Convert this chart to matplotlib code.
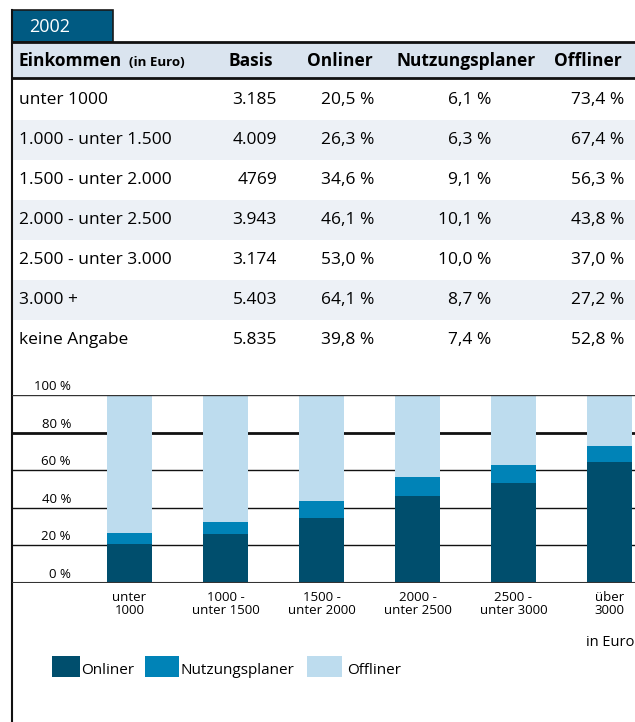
import matplotlib
matplotlib.use('Agg')
import matplotlib.pyplot as plt
from matplotlib.patches import Rectangle
import numpy as np

plt.rcParams['font.family'] = ['Open Sans', 'DejaVu Sans']

# ── data ──
year = '2002'
columns = ['Basis', 'Onliner', 'Nutzungsplaner', 'Offliner']
row_labels = ['unter 1000', '1.000 - unter 1.500', '1.500 - unter 2.000',
              '2.000 - unter 2.500', '2.500 - unter 3.000', '3.000 +', 'keine Angabe']
basis = ['3.185', '4.009', '4769', '3.943', '3.174', '5.403', '5.835']
onliner = [20.5, 26.3, 34.6, 46.1, 53.0, 64.1, 39.8]
nutzungsplaner = [6.1, 6.3, 9.1, 10.1, 10.0, 8.7, 7.4]
offliner = [73.4, 67.4, 56.3, 43.8, 37.0, 27.2, 52.8]

bar_labels = ['unter\n1000', '1000 -\nunter 1500', '1500 -\nunter 2000',
              '2000 -\nunter 2500', '2500 -\nunter 3000', 'über\n3000']
y_ticks = [0, 20, 40, 60, 80, 100]

c_tab = '#005a82'
c_head = '#dae4ef'
c_alt = '#edf1f6'
c_on = '#004e6d'
c_nu = '#0083b7'
c_off = '#bddcee'

W, H = 635, 722
fig = plt.figure(figsize=(W / 100, H / 100), dpi=100)

# ── table drawn in pixel coordinates ──
bg = fig.add_axes([0, 0, 1, 1])
bg.set_xlim(0, W)
bg.set_ylim(H, 0)
bg.axis('off')

bg.add_patch(Rectangle((12, 10), 101, 32, facecolor=c_tab, edgecolor='#1a1a1a', lw=1.2))
bg.text(29, 27, year, color='white', fontsize=13, va='center', ha='left')

bg.add_patch(Rectangle((12, 42), W - 12, 36, facecolor=c_head, edgecolor='none'))
bg.plot([12, W], [42, 42], color='#111111', lw=2)
bg.plot([12, W], [78, 78], color='#111111', lw=2)

fs = 12.5
bg.text(19, 61, 'Einkommen', fontsize=fs, fontweight='bold', va='center', ha='left')
bg.text(129, 62, '(in Euro)', fontsize=9.5, fontweight='bold', va='center', ha='left')
head_x = [251, 340, 466, 588]
for x, c in zip(head_x, columns):
    bg.text(x, 61, c, fontsize=fs, fontweight='bold', va='center', ha='center')

row_h = 40
top = 80
for i, lab in enumerate(row_labels):
    y0 = top + i * row_h
    if i % 2 == 1:
        bg.add_patch(Rectangle((12, y0), W - 12, row_h, facecolor=c_alt, edgecolor='none'))
    yc = y0 + row_h / 2
    bg.text(19, yc, lab, fontsize=fs, va='center', ha='left')
    bg.text(277, yc, basis[i], fontsize=fs, va='center', ha='right')
    bg.text(374, yc, f"{onliner[i]:.1f}".replace('.', ',') + ' %', fontsize=fs, va='center', ha='right')
    bg.text(491, yc, f"{nutzungsplaner[i]:.1f}".replace('.', ',') + ' %', fontsize=fs, va='center', ha='right')
    bg.text(624, yc, f"{offliner[i]:.1f}".replace('.', ',') + ' %', fontsize=fs, va='center', ha='right')

bg.plot([12, 12], [10, H], color='#111111', lw=1.5)

# ── stacked bar chart ──
y_top, y_bot = 395, 583
ax = fig.add_axes([12 / W, (H - y_bot) / H, (W - 12) / W, (y_bot - y_top) / H])
n = len(bar_labels)
x = np.arange(n)
on = np.array(onliner[:n])
nu = np.array(nutzungsplaner[:n])
off = np.array(offliner[:n])

for v in y_ticks[1:-1]:
    ax.axhline(v, color='#111111', lw=2.0 if v == 80 else 1.0, zorder=0)
ax.bar(x, on, width=0.47, color=c_on, zorder=2)
ax.bar(x, nu, bottom=on, width=0.47, color=c_nu, zorder=2)
ax.bar(x, off, bottom=on + nu, width=0.47, color=c_off, zorder=2)
ax.axhline(100, color='#333333', lw=1.0, zorder=3)
ax.axhline(0, color='#333333', lw=1.5, zorder=3)

ax.set_xlim(-1.224, 5.266)
ax.set_ylim(0, 100)
ax.axis('off')

for v in y_ticks:
    ax.text(-0.61, v + 4.5, f"{v} %", fontsize=9.5, ha='right', va='center')

for xi, lab in zip(x, bar_labels):
    ax.text(xi, -4, lab, fontsize=9.5, ha='center', va='top', linespacing=1.05)

bg.text(634, 643, 'in Euro', fontsize=10.5, ha='right', va='center')

# legend
leg = [(52, 28, c_on, 'Onliner'), (145, 34, c_nu, 'Nutzungsplaner'), (307, 35, c_off, 'Offliner')]
for lx, lw_, col, txt in leg:
    bg.add_patch(Rectangle((lx, 656), lw_, 21, facecolor=col, edgecolor='none'))
    bg.text(lx + lw_ + (5 if txt == 'Offliner' else 1), 670, txt, fontsize=11, ha='left', va='center')

fig.savefig('out.png', dpi=100, facecolor='white')
